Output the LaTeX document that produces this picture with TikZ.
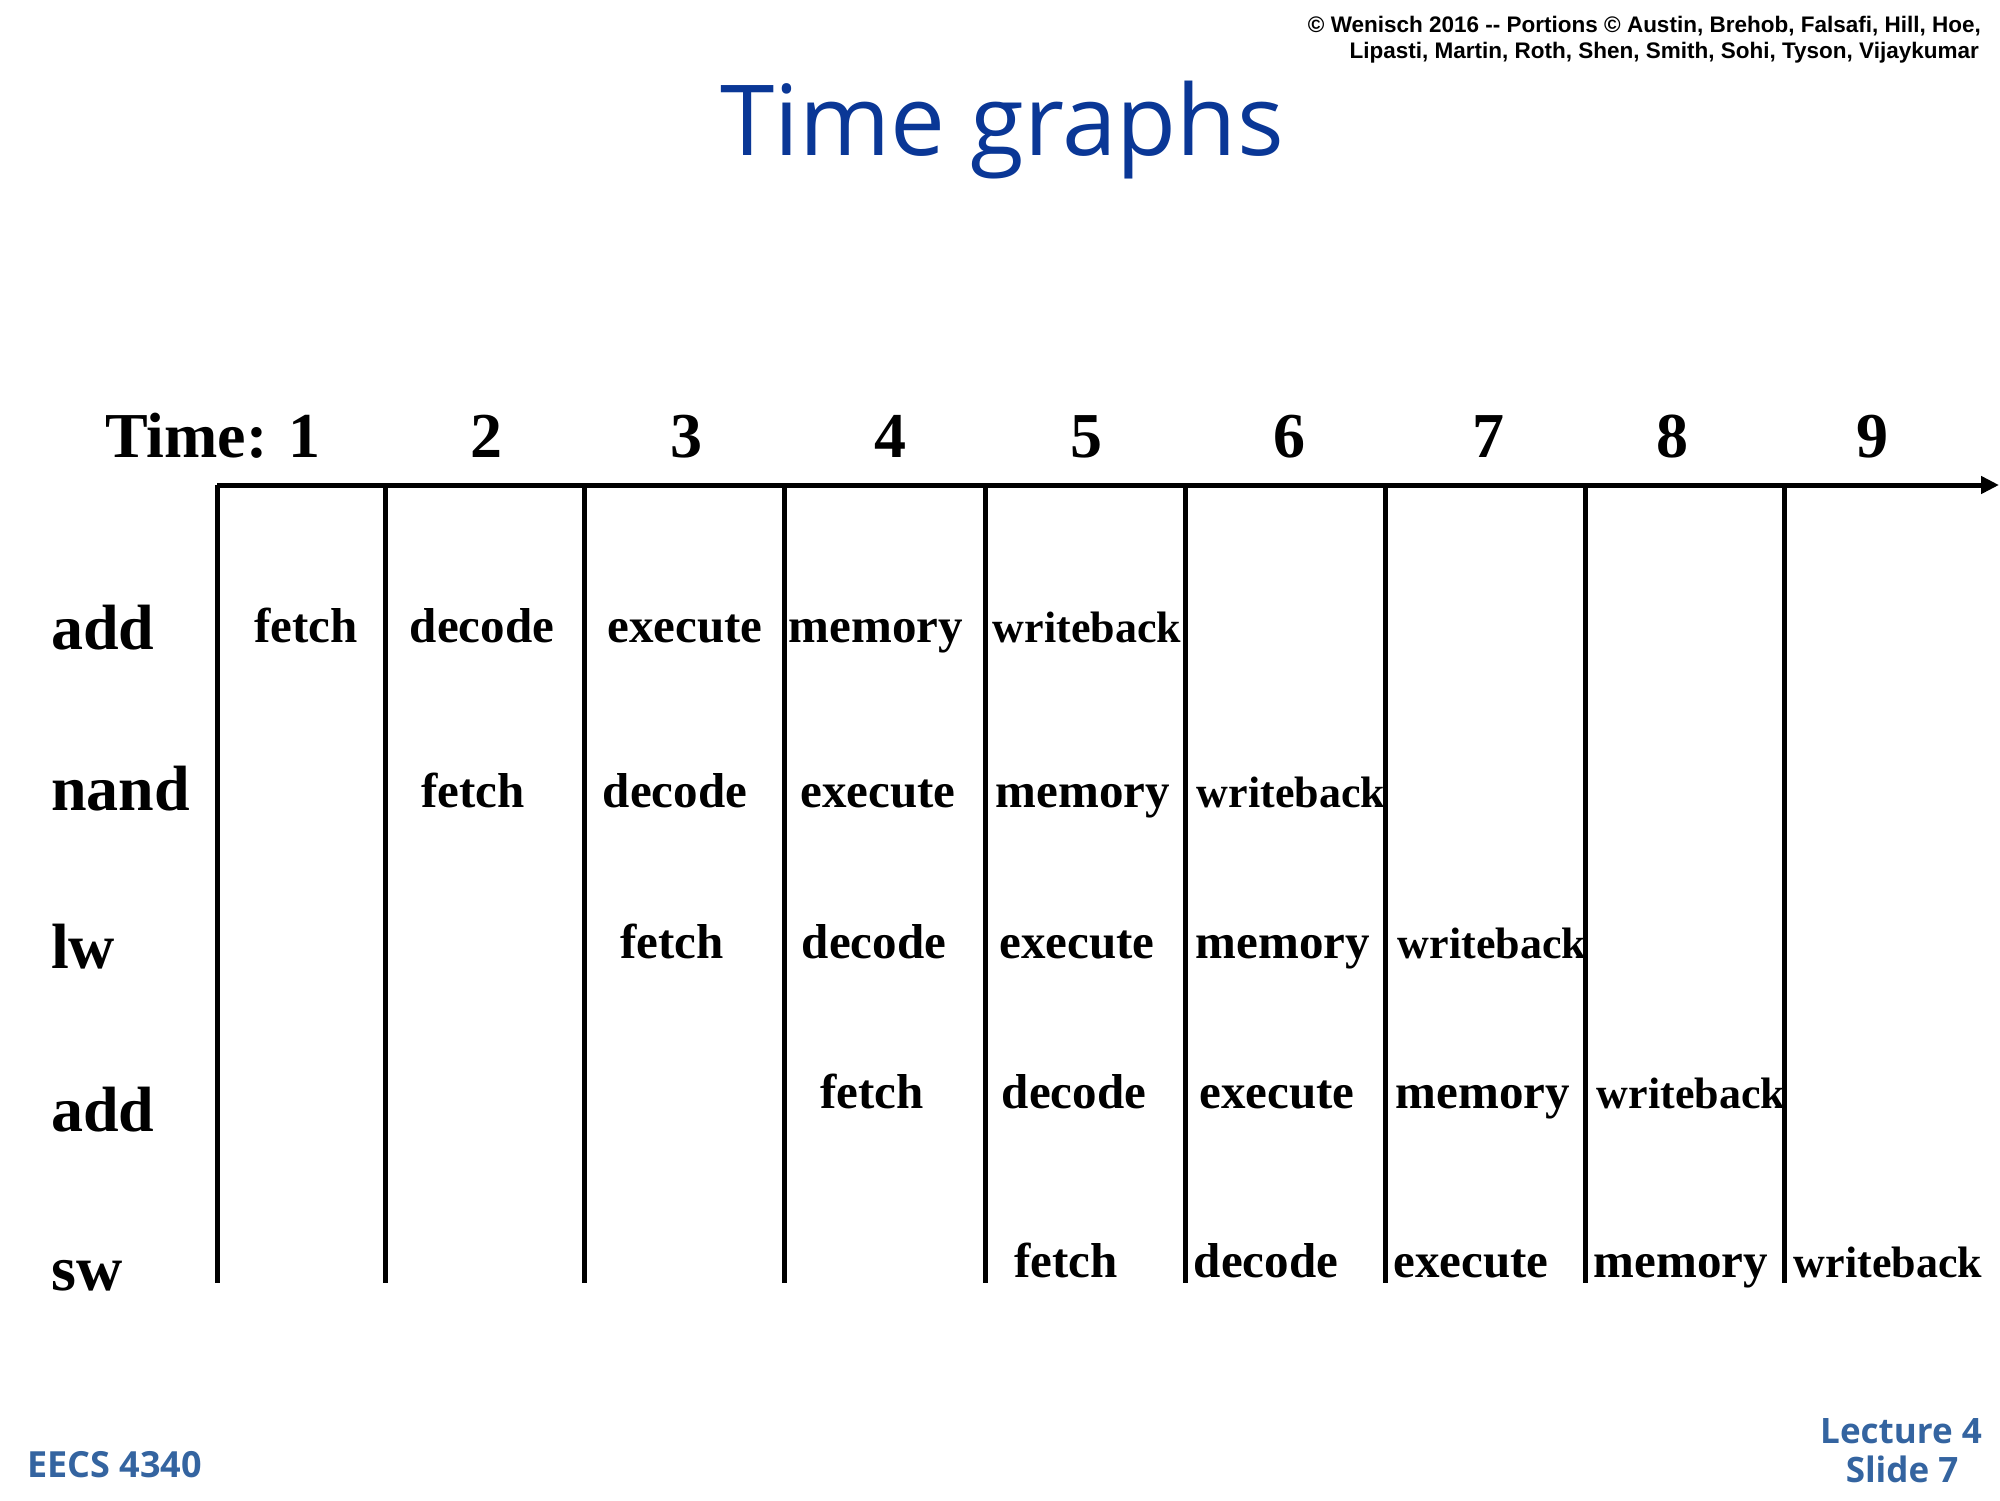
\documentclass[tikz,border=0pt]{standalone}
\usepackage{fontspec}
\setmainfont{Liberation Serif}
\newfontfamily\arialf{Liberation Sans}
\newfontfamily\comicf{Open Sans}
\usetikzlibrary{arrows.meta}
\definecolor{titleblue}{RGB}{10,55,150}
\definecolor{footblue}{RGB}{52,100,160}
\begin{document}
\begin{tikzpicture}[x=1pt,y=-1pt,
  stage/.style={anchor=base,inner sep=0pt,font=\fontsize{49}{49}\selectfont\bfseries},
  wb/.style={anchor=base,inner sep=0pt,font=\fontsize{44}{44}\selectfont\bfseries},
  instr/.style={anchor=base west,inner sep=0pt,font=\fontsize{64}{64}\selectfont\bfseries},
  tnum/.style={anchor=base,inner sep=0pt,font=\fontsize{64}{64}\selectfont\bfseries},
  gridline/.style={line width=5pt},
  axisline/.style={line width=5pt,-{Triangle[length=18pt,width=17pt]}},
  copytext/.style={anchor=base east,inner sep=0pt,font=\arialf\bfseries\fontsize{22.5}{22}\selectfont},
  foot/.style={inner sep=0pt,text=footblue,font=\comicf\bfseries\fontsize{35}{39}\selectfont},
]
\useasboundingbox[fill=white] (0,0) rectangle (2000,1500);

% copyright
\node[copytext] (copy1) at (1981,32) {© Wenisch 2016 -- Portions © Austin, Brehob, Falsafi, Hill, Hoe,};
\node[copytext] (copy2) at (1979,58) {Lipasti, Martin, Roth, Shen, Smith, Sohi, Tyson, Vijaykumar};

% title
\node[anchor=base,inner sep=0pt,text=titleblue,font=\comicf\fontsize{98}{98}\selectfont] (title) at (1002,155) {Time graphs};

% time labels
\node[anchor=base west,inner sep=0pt,font=\fontsize{64}{64}\selectfont\bfseries] (time1) at (105,457) {Time: 1};
\node[tnum] (time2) at (486,457) {2};
\node[tnum] (time3) at (686,457) {3};
\node[tnum] (time4) at (890,457) {4};
\node[tnum] (time5) at (1086,457) {5};
\node[tnum] (time6) at (1289,457) {6};
\node[tnum] (time7) at (1488,457) {7};
\node[tnum] (time8) at (1672,457) {8};
\node[tnum] (time9) at (1872,457) {9};

% axis and grid
\coordinate (ax0) at (217,485);
\coordinate (ax1) at (1999,485);
\foreach \n/\x in {1/217,2/385,3/584,4/784,5/985,6/1185,7/1385,8/1585,9/1784}{
  \coordinate (gt\n) at (\x,485);
  \coordinate (gb\n) at (\x,1283);
  \draw[gridline] (gt\n) -- (gb\n);
}
\draw[axisline] (ax0) -- (ax1);

% instruction labels
\node[instr] (i1) at (51,649) {add};
\node[instr] (i2) at (51,810) {nand};
\node[instr] (i3) at (51,968) {lw};
\node[instr] (i4) at (51,1131) {add};
\node[instr] (i5) at (51,1290) {sw};

% row 1
\node[stage] (r1a) at (306,642) {fetch};
\node[stage] (r1b) at (482,642) {decode};
\node[stage] (r1c) at (685,642) {execute};
\node[stage] (r1d) at (876,642) {memory};
\node[wb]    (r1e) at (1087,642) {writeback};
% row 2
\node[stage] (r2a) at (473,807) {fetch};
\node[stage] (r2b) at (675,807) {decode};
\node[stage] (r2c) at (878,807) {execute};
\node[stage] (r2d) at (1083,807) {memory};
\node[wb]    (r2e) at (1291,807) {writeback};
% row 3
\node[stage] (r3a) at (672,958) {fetch};
\node[stage] (r3b) at (874,958) {decode};
\node[stage] (r3c) at (1077,958) {execute};
\node[stage] (r3d) at (1283,958) {memory};
\node[wb]    (r3e) at (1492,958) {writeback};
% row 4
\node[stage] (r4a) at (872,1108) {fetch};
\node[stage] (r4b) at (1074,1108) {decode};
\node[stage] (r4c) at (1277,1108) {execute};
\node[stage] (r4d) at (1483,1108) {memory};
\node[wb]    (r4e) at (1691,1108) {writeback};
% row 5
\node[stage] (r5a) at (1066,1277) {fetch};
\node[stage] (r5b) at (1266,1277) {decode};
\node[stage] (r5c) at (1471,1277) {execute};
\node[stage] (r5d) at (1681,1277) {memory};
\node[wb]    (r5e) at (1888,1277) {writeback};

% footer
\node[foot,anchor=base west,font=\comicf\bfseries\fontsize{36}{36}\selectfont] (course) at (27,1477) {EECS 4340};
\node[foot,anchor=base] (lect) at (1901,1443) {Lecture 4};
\node[foot,anchor=base] (slide) at (1902,1482) {Slide 7};
\end{tikzpicture}
\end{document}
